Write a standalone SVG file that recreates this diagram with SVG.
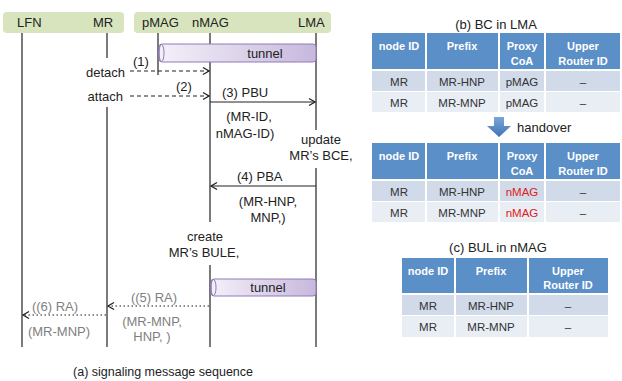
<svg xmlns="http://www.w3.org/2000/svg" width="622" height="381" viewBox="0 0 622 381">
<style>
text{font-family:"Liberation Sans",Arial,sans-serif;fill:#222;}
.t13{font-size:13px;}
.g{fill:#7f7f7f;}
.life{stroke:#333;stroke-width:1.3;fill:none;}
.msg{stroke:#222;stroke-width:1.2;fill:none;}
.dash{stroke-dasharray:4,3;}
.dot{stroke:#666;stroke-dasharray:1.5,2.5;stroke-width:1.3;}
.hdr{fill:#d7e4bd;}
.th{fill:#5b8fc8;}
.r1{fill:#d0dae8;}
.r2{fill:#e9edf4;}
.tht{font-size:11px;font-weight:bold;fill:#fff;text-anchor:middle;}
.tdt{font-size:11.5px;text-anchor:middle;fill:#333;}
.red{fill:#e02020;}
.sep{stroke:#fff;stroke-width:2;}
.tun{fill:url(#tg);stroke:#8f7bb8;stroke-width:1;}
</style>
<defs>
<linearGradient id="tg" x1="0" y1="0" x2="1" y2="0">
<stop offset="0" stop-color="#f4f0f9"/>
<stop offset="1" stop-color="#c7b8dc"/>
</linearGradient>
<linearGradient id="ag" x1="0" y1="0" x2="0" y2="1">
<stop offset="0" stop-color="#7aa6d8"/>
<stop offset="1" stop-color="#3f74b6"/>
</linearGradient>
<marker id="ah" markerWidth="10" markerHeight="10" refX="8" refY="5" orient="auto" markerUnits="userSpaceOnUse">
<path d="M2,1.5 L8,5 L2,8.5" fill="none" stroke="#222" stroke-width="1.3"/>
</marker>
</defs>

<g id="header-left">
<rect class="hdr" x="3" y="12" width="121" height="21" rx="4"/>
<text class="t13" x="17" y="27">LFN</text>
<text class="t13" x="93" y="27">MR</text>
</g>
<g id="header-right">
<rect class="hdr" x="134" y="12" width="197" height="21" rx="4"/>
<text class="t13" x="142" y="27">pMAG</text>
<text class="t13" x="192" y="27">nMAG</text>
<text class="t13" x="298" y="27">LMA</text>
</g>

<g id="lifelines">
<line class="life" x1="22" y1="33" x2="22" y2="347"/>
<line class="life" x1="107" y1="33" x2="107" y2="58"/>
<line class="life" x1="107" y1="107" x2="107" y2="347"/>
<line class="life" x1="158" y1="33" x2="158" y2="75"/>
<line class="life" x1="210" y1="33" x2="210" y2="222"/>
<line class="life" x1="210" y1="265" x2="210" y2="347"/>
<line class="life" x1="316" y1="33" x2="316" y2="130"/>
<line class="life" x1="316" y1="168" x2="316" y2="347"/>
</g>

<g id="tunnel1">
<rect class="tun" x="159" y="44" width="157" height="18" rx="3"/>
<ellipse cx="161.5" cy="53" rx="2.5" ry="8.5" fill="none" stroke="#8f7bb8"/>
<text class="t13" x="265" y="58" text-anchor="middle">tunnel</text>
</g>
<g id="tunnel2">
<rect class="tun" x="211" y="279" width="105" height="17" rx="3"/>
<ellipse cx="213.5" cy="287.5" rx="2.5" ry="8" fill="none" stroke="#8f7bb8"/>
<text class="t13" x="268" y="292" text-anchor="middle">tunnel</text>
</g>

<g id="connectors">
<line class="msg dash" x1="130" y1="71" x2="209" y2="71" marker-end="url(#ah)"/>
<line class="msg dash" x1="130" y1="96" x2="209" y2="96" marker-end="url(#ah)"/>
<line class="msg" x1="210" y1="102" x2="315" y2="102" marker-end="url(#ah)"/>
<line class="msg" x1="316" y1="186" x2="211" y2="186" marker-end="url(#ah)"/>
<line class="msg dot" x1="209" y1="306" x2="108" y2="306" marker-end="url(#ah)"/>
<line class="msg dot" x1="106" y1="315" x2="23" y2="315" marker-end="url(#ah)"/>
</g>

<g id="labels">
<text class="t13" x="133" y="66">(1)</text>
<text class="t13" x="125" y="77" text-anchor="end">detach</text>
<text class="t13" x="176" y="91">(2)</text>
<text class="t13" x="123" y="101" text-anchor="end">attach</text>
<text class="t13" x="222" y="97">(3) PBU</text>
<text class="t13" x="249" y="121" text-anchor="middle">(MR-ID,</text>
<text class="t13" x="245" y="138" text-anchor="middle">nMAG-ID)</text>
<text class="t13" x="321" y="144" text-anchor="middle">update</text>
<text class="t13" x="321" y="160" text-anchor="middle">MR’s BCE,</text>
<text class="t13" x="237" y="181">(4) PBA</text>
<text class="t13" x="268" y="206" text-anchor="middle">(MR-HNP,</text>
<text class="t13" x="268" y="222" text-anchor="middle">MNP,)</text>
<text class="t13" x="205" y="241" text-anchor="middle">create</text>
<text class="t13" x="204" y="257" text-anchor="middle">MR’s BULE,</text>
<text class="t13 g" x="154" y="302" text-anchor="middle">((5) RA)</text>
<text class="t13 g" x="152" y="326" text-anchor="middle">(MR-MNP,</text>
<text class="t13 g" x="152" y="341" text-anchor="middle">HNP, )</text>
<text class="t13 g" x="55" y="311" text-anchor="middle">((6) RA)</text>
<text class="t13 g" x="59" y="336" text-anchor="middle">(MR-MNP)</text>
<text class="t13" x="163" y="376" text-anchor="middle" style="font-size:12.5px">(a) signaling message sequence</text>
</g>

<g id="table-b">
<text class="t13" x="496" y="29" text-anchor="middle">(b) BC in LMA</text>
<rect class="th" x="372" y="33" width="248" height="36"/>
<rect class="r1" x="372" y="71" width="248" height="20"/>
<rect class="r2" x="372" y="92" width="248" height="20"/>
<line class="sep" x1="426" y1="33" x2="426" y2="112"/>
<line class="sep" x1="499" y1="33" x2="499" y2="112"/>
<line class="sep" x1="545" y1="33" x2="545" y2="112"/>
<text class="tht" x="399" y="50">node ID</text>
<text class="tht" x="462" y="50">Prefix</text>
<text class="tht" x="522" y="50">Proxy</text>
<text class="tht" x="522" y="65">CoA</text>
<text class="tht" x="583" y="50">Upper</text>
<text class="tht" x="583" y="65">Router ID</text>
<text class="tdt" x="399" y="86">MR</text>
<text class="tdt" x="462" y="86">MR-HNP</text>
<text class="tdt" x="522" y="86">pMAG</text>
<text class="tdt" x="583" y="86">–</text>
<text class="tdt" x="399" y="107">MR</text>
<text class="tdt" x="462" y="107">MR-MNP</text>
<text class="tdt" x="522" y="107">pMAG</text>
<text class="tdt" x="583" y="107">–</text>
</g>

<g id="handover">
<path d="M494,117 H504 V126 H511 L499,137 L487,126 H494 Z" fill="url(#ag)"/>
<text class="t13" x="517" y="132">handover</text>
</g>

<g id="table-b2">
<rect class="th" x="372" y="143" width="248" height="36"/>
<rect class="r1" x="372" y="181" width="248" height="20"/>
<rect class="r2" x="372" y="202" width="248" height="20"/>
<line class="sep" x1="426" y1="143" x2="426" y2="222"/>
<line class="sep" x1="499" y1="143" x2="499" y2="222"/>
<line class="sep" x1="545" y1="143" x2="545" y2="222"/>
<text class="tht" x="399" y="160">node ID</text>
<text class="tht" x="462" y="160">Prefix</text>
<text class="tht" x="522" y="160">Proxy</text>
<text class="tht" x="522" y="175">CoA</text>
<text class="tht" x="583" y="160">Upper</text>
<text class="tht" x="583" y="175">Router ID</text>
<text class="tdt" x="399" y="196">MR</text>
<text class="tdt" x="462" y="196">MR-HNP</text>
<text class="tdt red" x="522" y="196">nMAG</text>
<text class="tdt" x="583" y="196">–</text>
<text class="tdt" x="399" y="217">MR</text>
<text class="tdt" x="462" y="217">MR-MNP</text>
<text class="tdt red" x="522" y="217">nMAG</text>
<text class="tdt" x="583" y="217">–</text>
</g>

<g id="table-c">
<text class="t13" x="498" y="252" text-anchor="middle">(c) BUL in nMAG</text>
<rect class="th" x="402" y="258" width="206" height="35"/>
<rect class="r1" x="402" y="295" width="206" height="20"/>
<rect class="r2" x="402" y="316" width="206" height="21"/>
<line class="sep" x1="455" y1="258" x2="455" y2="337"/>
<line class="sep" x1="528" y1="258" x2="528" y2="337"/>
<text class="tht" x="428" y="275">node ID</text>
<text class="tht" x="491" y="275">Prefix</text>
<text class="tht" x="568" y="275">Upper</text>
<text class="tht" x="568" y="289">Router ID</text>
<text class="tdt" x="428" y="310">MR</text>
<text class="tdt" x="491" y="310">MR-HNP</text>
<text class="tdt" x="568" y="310">–</text>
<text class="tdt" x="428" y="331">MR</text>
<text class="tdt" x="491" y="331">MR-MNP</text>
<text class="tdt" x="568" y="331">–</text>
</g>
</svg>
